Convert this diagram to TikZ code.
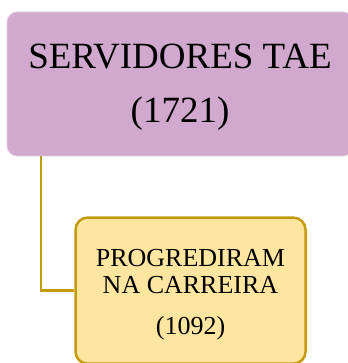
\documentclass[tikz,border=0pt]{standalone}
\usepackage{fontspec}
\setmainfont{Liberation Serif}
\usepackage{xcolor}
\usetikzlibrary{positioning}

\definecolor{tafill}{RGB}{209,169,207}
\definecolor{progfill}{RGB}{255,230,160}
\definecolor{golden}{RGB}{197,154,12}

\newcommand{\lift}[1]{\rule{0pt}{#1}}

\begin{document}
\begin{tikzpicture}[
    x=1pt, y=1pt,
    topbox/.style={rounded corners=10pt, fill=tafill, draw=tafill!60!white, line width=0.8pt,
      minimum width=346pt, minimum height=144pt, align=center,
      font=\fontsize{37}{54}\selectfont},
    leafbox/.style={rounded corners=12pt, fill=progfill, draw=golden, line width=2.5pt,
      minimum width=230pt, minimum height=146pt, align=center,
      font=\fontsize{26}{27}\selectfont},
    link/.style={draw=golden, line width=2.5pt},
  ]
  \useasboundingbox (0,0) rectangle (347,363);

  % Root box
  \node[topbox] (servidores) at (180,279) {\lift{30pt}SERVIDORES TAE\\(1721)};

  % Child box
  \node[leafbox, below=60pt of servidores.south, xshift=10.5pt] (progrediram)
    {\lift{25.6pt}PROGREDIRAM\\NA CARREIRA\\[14pt](1092)};

  % Connector
  \draw[link] ([xshift=34.5pt]servidores.south west) |- (progrediram.west);

\end{tikzpicture}
\end{document}
